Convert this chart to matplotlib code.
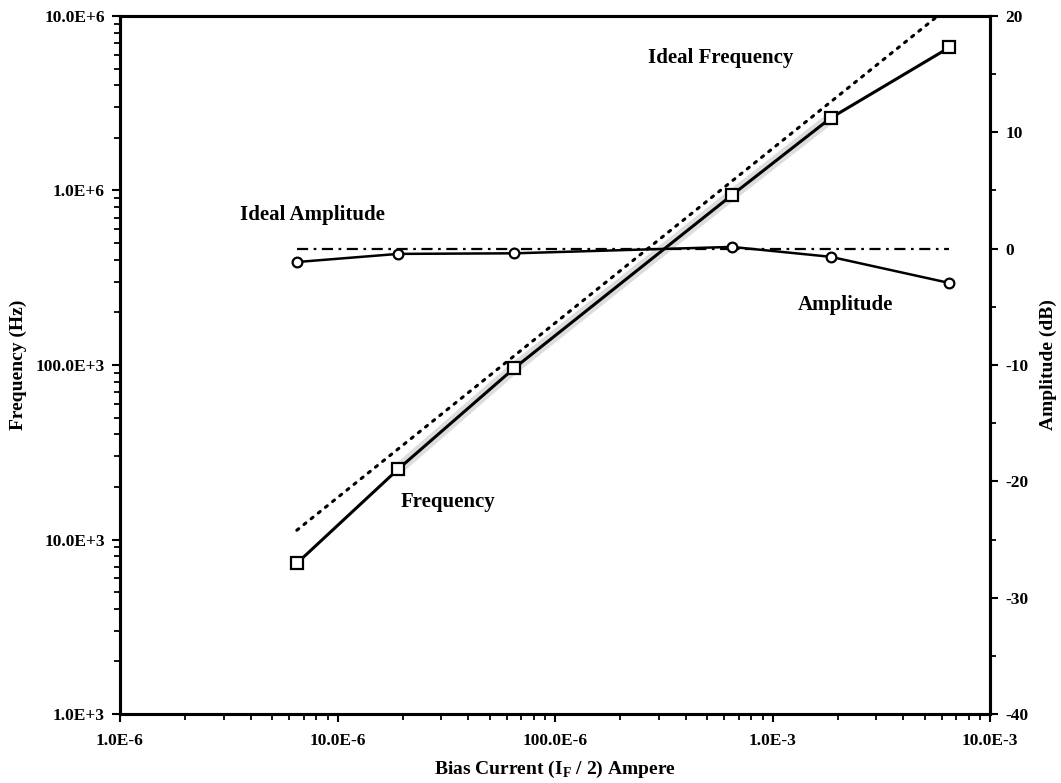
import numpy as np
import matplotlib
matplotlib.use('Agg')
import matplotlib.pyplot as plt
from matplotlib.ticker import FixedLocator, NullFormatter

# Data
bias_current = [6.5e-6, 1.9e-5, 6.5e-5, 6.5e-4, 1.85e-3, 6.5e-3]   # A
frequency = [7.3e3, 2.53e4, 9.6e4, 9.4e5, 2.6e6, 6.6e6]             # Hz
amplitude = [-1.15, -0.45, -0.4, 0.15, -0.7, -2.95]                  # dB
ideal_current = [6.5e-6, 6.5e-3]
ideal_frequency = [1.13e4, 1.13e7]
ideal_amplitude = [0.0, 0.0]

x_ticks = [1e-6, 1e-5, 1e-4, 1e-3, 1e-2]
x_labels = ['1.0E-6', '10.0E-6', '100.0E-6', '1.0E-3', '10.0E-3']
y_ticks = [1e3, 1e4, 1e5, 1e6, 1e7]
y_labels = ['1.0E+3', '10.0E+3', '100.0E+3', '1.0E+6', '10.0E+6']
r_ticks = [-40, -30, -20, -10, 0, 10, 20]
r_labels = ['-40', '-30', '-20', '-10', '0', '10', '20']

plt.rcParams['font.family'] = ['Liberation Serif', 'DejaVu Serif']
plt.rcParams['font.weight'] = 'bold'
plt.rcParams['mathtext.fontset'] = 'custom'
plt.rcParams['mathtext.bf'] = 'Liberation Serif:bold'

fig = plt.figure(figsize=(10.61, 7.83), dpi=100)
ax = fig.add_axes([0.1131, 0.0881, 0.82, 0.8915])
ax2 = ax.twinx()

# Frequency axis (left, log)
ax.set_xscale('log')
ax.set_yscale('log')
ax.set_xlim(1e-6, 1e-2)
ax.set_ylim(1e3, 1e7)

# scan halo along the middle of the measured frequency line
ax.plot(bias_current[1:5], frequency[1:5], color='#dddddd', lw=8,
        solid_capstyle='round', zorder=1)
ax.plot(ideal_current, ideal_frequency, color='black', lw=2.2,
        linestyle=(0, (0.8, 2.2)), dash_capstyle='round', zorder=2)
ax.plot(bias_current, frequency, color='black', lw=2.2, marker='s',
        markersize=9, markerfacecolor='white', markeredgecolor='black',
        markeredgewidth=1.6, zorder=3)

ax.xaxis.set_major_locator(FixedLocator(x_ticks))
ax.set_xticklabels(x_labels)
ax.xaxis.set_minor_locator(FixedLocator(
    [m * 10.0 ** e for e in range(-6, -2) for m in range(2, 10)]))
ax.xaxis.set_minor_formatter(NullFormatter())
ax.yaxis.set_major_locator(FixedLocator(y_ticks))
ax.set_yticklabels(y_labels)
ax.yaxis.set_minor_locator(FixedLocator(
    [m * 10.0 ** e for e in range(3, 7) for m in range(2, 10)]))
ax.yaxis.set_minor_formatter(NullFormatter())

ax.tick_params(axis='both', which='major', direction='out', length=6,
               width=1.5, labelsize=12.5)
ax.tick_params(axis='x', which='major', pad=8)
ax.tick_params(axis='y', which='major', pad=5)
ax.tick_params(axis='both', which='minor', direction='out', length=4, width=1.3)

ax.set_xlabel(r'Bias Current (I$_{\mathbf{F}}$ / 2) Ampere', fontsize=14,
              fontweight='bold', labelpad=7)
ax.set_ylabel('Frequency (Hz)', fontsize=14, fontweight='bold', labelpad=6)

# Amplitude axis (right, linear)
ax2.set_ylim(-40, 20)
ax2.plot(ideal_current, ideal_amplitude, color='black', lw=1.6,
         linestyle=(0, (5, 2.5, 1.2, 2.5)), zorder=2)
ax2.plot(bias_current, amplitude, color='black', lw=1.8, marker='o',
         markersize=7, markerfacecolor='white', markeredgecolor='black',
         markeredgewidth=1.6, zorder=3)
ax2.yaxis.set_major_locator(FixedLocator(r_ticks))
ax2.set_yticklabels(r_labels)
ax2.yaxis.set_minor_locator(FixedLocator(np.arange(-35, 20, 10)))
ax2.tick_params(axis='y', which='major', direction='out', length=6,
                width=1.5, labelsize=12.5, pad=5)
ax2.tick_params(axis='y', which='minor', direction='out', length=4, width=1.3)
ax2.set_ylabel('Amplitude (dB)', fontsize=14, fontweight='bold', labelpad=8)

for a in (ax, ax2):
    for s in a.spines.values():
        s.set_linewidth(2.2)

# Curve labels
ax.text(0.690, 0.940, 'Ideal Frequency', transform=ax.transAxes,
        ha='center', va='center', fontsize=15, fontweight='bold')
ax.text(0.221, 0.715, 'Ideal Amplitude', transform=ax.transAxes,
        ha='center', va='center', fontsize=15, fontweight='bold')
ax.text(0.834, 0.586, 'Amplitude', transform=ax.transAxes,
        ha='center', va='center', fontsize=15, fontweight='bold')
ax.text(0.377, 0.304, 'Frequency', transform=ax.transAxes,
        ha='center', va='center', fontsize=15, fontweight='bold')

fig.savefig('out.png', dpi=100)
